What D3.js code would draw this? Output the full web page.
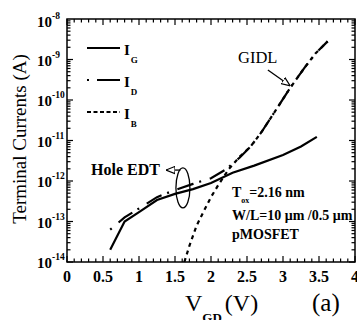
<!DOCTYPE html>
<html><head><meta charset="utf-8">
<script src="https://cdn.jsdelivr.net/npm/d3@7/dist/d3.min.js"></script>
<style>body{margin:0;background:#fff}svg{display:block}</style>
</head><body><div id="c"></div>
<script>
// ---- data ----
const vgdG = [0.6, 0.8, 1.0, 1.25, 1.5, 1.75, 2.0, 2.3, 2.6, 3.0, 3.25, 3.47];
const iG   = [2e-14, 1e-13, 1.7e-13, 3.4e-13, 4.8e-13, 6.3e-13, 8.9e-13, 1.6e-12, 2.4e-12, 4.4e-12, 7.1e-12, 1.23e-11];
const vgdD = [0.6, 0.8, 1.0, 1.25, 1.5, 1.75, 2.0, 2.2, 2.4, 2.55, 2.7, 2.9, 3.1, 3.3, 3.45, 3.62];
const iD   = [6.3e-14, 1.26e-13, 2.1e-13, 4e-13, 6e-13, 8.5e-13, 1.17e-12, 1.9e-12, 3.8e-12, 7.1e-12, 1.6e-11, 5.6e-11, 2e-10, 6.3e-10, 1.4e-9, 2.8e-9];
const vgdB = [1.63, 1.7, 1.8, 1.9, 2.0, 2.1, 2.25, 2.4, 2.55, 2.7, 2.9, 3.1, 3.3, 3.45, 3.62];
const iB   = [1e-14, 2.5e-14, 7.9e-14, 1.8e-13, 4e-13, 7.9e-13, 2e-12, 4e-12, 7.1e-12, 1.6e-11, 5.6e-11, 2e-10, 6.3e-10, 1.4e-9, 2.8e-9];
const xTickVals = [0, 0.5, 1, 1.5, 2, 2.5, 3, 3.5, 4];
const xTickLabels = ["0", "0.5", "1", "1.5", "2", "2.5", "3", "3.5", "4"];
const yTickExps = [-14, -13, -12, -11, -10, -9, -8];
const legendNames = ["G", "D", "B"];

const W = 357, H = 320;
const L = 67, R = 355, T = 19, B = 262;
const FONT = "'Liberation Serif', 'Times New Roman', serif";
const svg = d3.select("#c").append("svg").attr("width", W).attr("height", H)
  .style("font-family", FONT);

const x = d3.scaleLinear().domain([0, 4]).range([L, R]);
const y = d3.scaleLog().domain([1e-14, 1e-8]).range([B, T]);

// frame
svg.append("rect").attr("x", L).attr("y", T).attr("width", R - L).attr("height", B - T)
  .attr("fill", "none").attr("stroke", "#000").attr("stroke-width", 1.5);

// x ticks (minor every 0.1)
const xMinor = d3.range(0, 4.0001, 0.1).map(v => +v.toFixed(1));
const isMajorX = v => Math.abs(v * 2 - Math.round(v * 2)) < 1e-6;
const tickG = svg.append("g").attr("stroke", "#000").attr("stroke-width", 1.2);
xMinor.forEach(v => {
  const len = isMajorX(v) ? 6 : 3.5;
  tickG.append("line").attr("x1", x(v)).attr("x2", x(v)).attr("y1", B).attr("y2", B - len);
  tickG.append("line").attr("x1", x(v)).attr("x2", x(v)).attr("y1", T).attr("y2", T + len);
});
// y ticks (log minor)
for (let e = -14; e < -8; e++) {
  for (let m = 1; m <= 9; m++) {
    const v = m * Math.pow(10, e);
    const len = m === 1 ? 6 : 3.5;
    tickG.append("line").attr("x1", L).attr("x2", L + len).attr("y1", y(v)).attr("y2", y(v));
    tickG.append("line").attr("x1", R).attr("x2", R - len).attr("y1", y(v)).attr("y2", y(v));
  }
}

// x tick labels
svg.append("g").selectAll("text").data(xTickVals).join("text")
  .attr("x", d => x(d)).attr("y", 282).attr("text-anchor", "middle")
  .attr("font-size", 16).attr("font-weight", "bold")
  .text((d, i) => xTickLabels[i]);

// y tick labels
const yl = svg.append("g");
yTickExps.forEach(e => {
  const yy = y(Math.pow(10, e)) + (e === -8 ? 8 : 6);
  yl.append("text").attr("x", 52).attr("y", yy).attr("text-anchor", "end")
    .attr("font-size", 15).attr("font-weight", "bold").text("10");
  yl.append("text").attr("x", 52).attr("y", yy - 8)
    .attr("font-size", 9.5).attr("font-weight", "bold").text(String(e));
});

// axis titles
svg.append("text").attr("transform", "translate(26,139) rotate(-90)")
  .attr("text-anchor", "middle").attr("font-size", 19).text("Terminal Currents (A)");
const xt = svg.append("text").attr("x", 185).attr("y", 311).attr("font-size", 24);
xt.append("tspan").text("V");
xt.append("tspan").attr("font-size", 13).attr("font-weight", "bold").attr("dy", 11).text("GD");
xt.append("tspan").attr("dy", -11).attr("dx", 3).text("(V)");
svg.append("text").attr("x", 312).attr("y", 311).attr("font-size", 25).text("(a)");

// curves
const line = d3.line().x(d => x(d[0])).y(d => y(d[1]));
const zip = (a, b) => a.map((v, i) => [v, b[i]]);
svg.append("path").datum(zip(vgdG, iG)).attr("d", line)
  .attr("fill", "none").attr("stroke", "#000").attr("stroke-width", 2.2);
svg.append("path").datum(zip(vgdD, iD)).attr("d", line)
  .attr("fill", "none").attr("stroke", "#000").attr("stroke-width", 2.2)
  .attr("stroke-dasharray", "2,9,17,6");
svg.append("path").datum(zip(vgdB, iB)).attr("d", line)
  .attr("fill", "none").attr("stroke", "#000").attr("stroke-width", 2.2)
  .attr("stroke-dasharray", "4,4");

// legend
const lg = svg.append("g");
const legY = [48, 80, 112];
const legDash = [null, "2,8,24,0", "4,2.5"];
legendNames.forEach((n, i) => {
  const ln = lg.append("line").attr("x1", 87).attr("x2", 120).attr("y1", legY[i]).attr("y2", legY[i])
    .attr("stroke", "#000").attr("stroke-width", 2);
  if (legDash[i]) ln.attr("stroke-dasharray", legDash[i]);
  const t = lg.append("text").attr("x", 124).attr("y", legY[i] + 7).attr("font-size", 15).attr("font-weight", "bold");
  t.append("tspan").text("I");
  t.append("tspan").attr("font-size", 9).attr("dy", 8).attr("dx", 1).text(n);
});

// annotations
svg.append("defs").append("marker").attr("id", "oa").attr("viewBox", "0 0 10 10")
  .attr("refX", 10).attr("refY", 5).attr("markerWidth", 9).attr("markerHeight", 9)
  .attr("markerUnits", "userSpaceOnUse").attr("orient", "auto")
  .append("path").attr("d", "M0,1 L10,5 L0,9 Z").attr("fill", "#fff").attr("stroke", "#000").attr("stroke-width", 1.3);

svg.append("text").attr("x", 238).attr("y", 63).attr("font-size", 16.5).text("GIDL");
svg.append("line").attr("x1", x(2.79)).attr("y1", y(Math.pow(10, -9.26)))
  .attr("x2", x(3.10)).attr("y2", y(Math.pow(10, -9.65)))
  .attr("stroke", "#000").attr("stroke-width", 1.3).attr("marker-end", "url(#oa)");

svg.append("ellipse").attr("cx", x(1.61)).attr("cy", y(Math.pow(10, -12.17)))
  .attr("rx", 7).attr("ry", 20).attr("fill", "none").attr("stroke", "#000").attr("stroke-width", 1.3);
svg.append("line").attr("x1", x(1.575)).attr("y1", y(Math.pow(10, -11.73)))
  .attr("x2", x(1.375)).attr("y2", y(Math.pow(10, -11.73)))
  .attr("stroke", "#000").attr("stroke-width", 1.3).attr("marker-end", "url(#oa)");
svg.append("text").attr("x", 91).attr("y", 175).attr("font-size", 16).attr("font-weight", "bold").text("Hole EDT");

const tx = svg.append("text").attr("x", 232).attr("y", 197).attr("font-size", 14).attr("font-weight", "bold");
tx.append("tspan").text("T");
tx.append("tspan").attr("font-size", 8).attr("dy", 6).text("ox");
tx.append("tspan").attr("dy", -6).text("=2.16 nm");
svg.append("text").attr("x", 232).attr("y", 220).attr("font-size", 14).attr("font-weight", "bold").text("W/L=10 \u03bcm /0.5 \u03bcm");
svg.append("text").attr("x", 232).attr("y", 239).attr("font-size", 14).attr("font-weight", "bold").text("pMOSFET");
</script></body></html>
